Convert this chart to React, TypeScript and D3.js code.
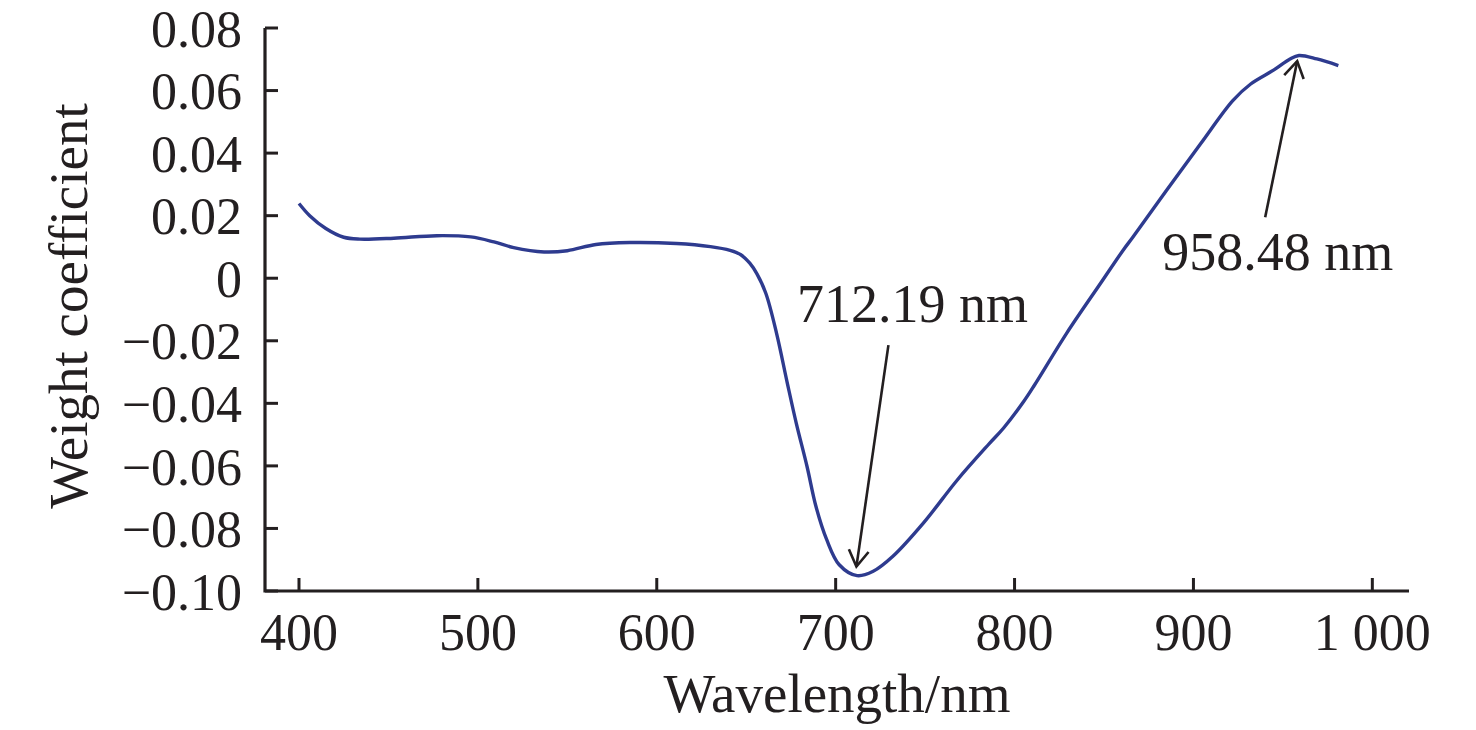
import React from 'react';
import * as d3 from 'd3';

// Wavelength (nm) and weight coefficient
const wavelengths = [
  400, 406, 415, 425, 434, 453, 477, 496, 509, 520, 537, 550, 566, 585, 611, 630, 641, 647,
  652, 656, 661, 667, 673, 678, 684, 689, 695, 702, 712, 721, 732, 749, 768, 786, 794, 805,
  811, 829, 848, 861, 866, 885, 904, 922, 932, 945, 954, 959, 969, 981,
];
const weights = [
  0.0239, 0.02, 0.0159, 0.0131, 0.0125, 0.0128, 0.0136, 0.0132, 0.0116, 0.0098, 0.0084, 0.0088,
  0.0108, 0.0114, 0.0111, 0.0101, 0.0089, 0.0075, 0.0048, 0.0014, -0.0049, -0.0177, -0.0336, -0.0464,
  -0.0602, -0.073, -0.0836, -0.0916, -0.0951, -0.0937, -0.0889, -0.0783, -0.0645, -0.0528, -0.0478,
  -0.0395, -0.0343, -0.0177, -0.0017, 0.0092, 0.013, 0.0281, 0.043, 0.0568, 0.0621, 0.0666,
  0.0701, 0.0712, 0.0701, 0.068,
];

const xTicks = [400, 500, 600, 700, 800, 900, 1000];
const xTickLabels = ['400', '500', '600', '700', '800', '900', '1 000'];
const yTicks = [-0.1, -0.08, -0.06, -0.04, -0.02, 0, 0.02, 0.04, 0.06, 0.08];
const yTickLabels = ['\u22120.10', '\u22120.08', '\u22120.06', '\u22120.04', '\u22120.02', '0', '0.02', '0.04', '0.06', '0.08'];

// annotations: label, arrow tail [wl, w], arrow tip [wl, w], text anchor [wl, w]
const peakLabels = ['712.19 nm', '958.48 nm'];
const arrowTails: [number, number][] = [[729.5, -0.0214], [940.1, 0.0195]];
const arrowTips: [number, number][] = [[711.6, -0.0922], [958, 0.0694]];
const labelAt: [number, number][] = [[678.4, -0.014], [882.5, 0.0026]];

const W = 1476;
const H = 730;
const font = '"Liberation Serif", "Times New Roman", serif';
const ink = '#231f20';

export default function App() {
  const x = d3.scaleLinear().domain([381, 1020.5]).range([265, 1409]);
  const y = d3.scaleLinear().domain([-0.1, 0.08]).range([591, 28]);

  const pts: [number, number][] = wavelengths.map((w, i) => [w, weights[i]]);
  const line = d3.line<[number, number]>()
    .x(d => x(d[0]))
    .y(d => y(d[1]))
    .curve(d3.curveCatmullRom.alpha(0.5));

  const axisY = y(-0.1);
  const axisX = x(381);
  const tick = 13;

  const arrowHead = (tail: [number, number], tip: [number, number]) => {
    const tx = x(tip[0]), ty = y(tip[1]);
    const ang = Math.atan2(ty - y(tail[1]), tx - x(tail[0]));
    const len = 19, spread = 0.55;
    const a = [tx - len * Math.cos(ang - spread), ty - len * Math.sin(ang - spread)];
    const b = [tx - len * Math.cos(ang + spread), ty - len * Math.sin(ang + spread)];
    return `M${a[0]},${a[1]}L${tx},${ty}L${b[0]},${b[1]}`;
  };

  return (
    <svg width={W} height={H} style={{ position: 'absolute', left: 0, top: 0, background: '#fff' }}>
      <rect width={W} height={H} fill="#fff" />

      {/* curve */}
      <path d={line(pts) || ''} fill="none" stroke="#2e3b8f" strokeWidth={3.4} strokeLinejoin="round" />

      {/* axes */}
      <path d={`M${axisX},${y(0.08)}V${axisY}H${x(1020.5)}`} fill="none" stroke={ink} strokeWidth={3.2} />
      {xTicks.map((t, i) => (
        <g key={t}>
          <line x1={x(t)} x2={x(t)} y1={axisY} y2={axisY - tick} stroke={ink} strokeWidth={3} />
          <text x={x(t)} y={axisY + 59} textAnchor="middle" fontFamily={font} fontSize={52} fill={ink}>
            {xTickLabels[i]}
          </text>
        </g>
      ))}
      {yTicks.map((t, i) => (
        <g key={t}>
          <line x1={axisX} x2={axisX + tick} y1={y(t)} y2={y(t)} stroke={ink} strokeWidth={3} />
          <text x={242} y={y(t)} dy="0.36em" textAnchor="end" fontFamily={font} fontSize={52} fill={ink}>
            {yTickLabels[i]}
          </text>
        </g>
      ))}

      {/* axis titles */}
      <text x={837} y={712} textAnchor="middle" fontFamily={font} fontSize={55} fill={ink}>
        Wavelength/nm
      </text>
      <text transform="translate(87,306) rotate(-90)" textAnchor="middle" fontFamily={font} fontSize={55} fill={ink}>
        Weight coefficient
      </text>

      {/* peak annotations */}
      {peakLabels.map((lab, i) => (
        <g key={lab}>
          <line
            x1={x(arrowTails[i][0])} y1={y(arrowTails[i][1])}
            x2={x(arrowTips[i][0])} y2={y(arrowTips[i][1])}
            stroke={ink} strokeWidth={2.6}
          />
          <path d={arrowHead(arrowTails[i], arrowTips[i])} fill="none" stroke={ink} strokeWidth={2.6} />
          <text x={x(labelAt[i][0])} y={y(labelAt[i][1])} fontFamily={font} fontSize={54} fill={ink}>
            {lab}
          </text>
        </g>
      ))}
    </svg>
  );
}
